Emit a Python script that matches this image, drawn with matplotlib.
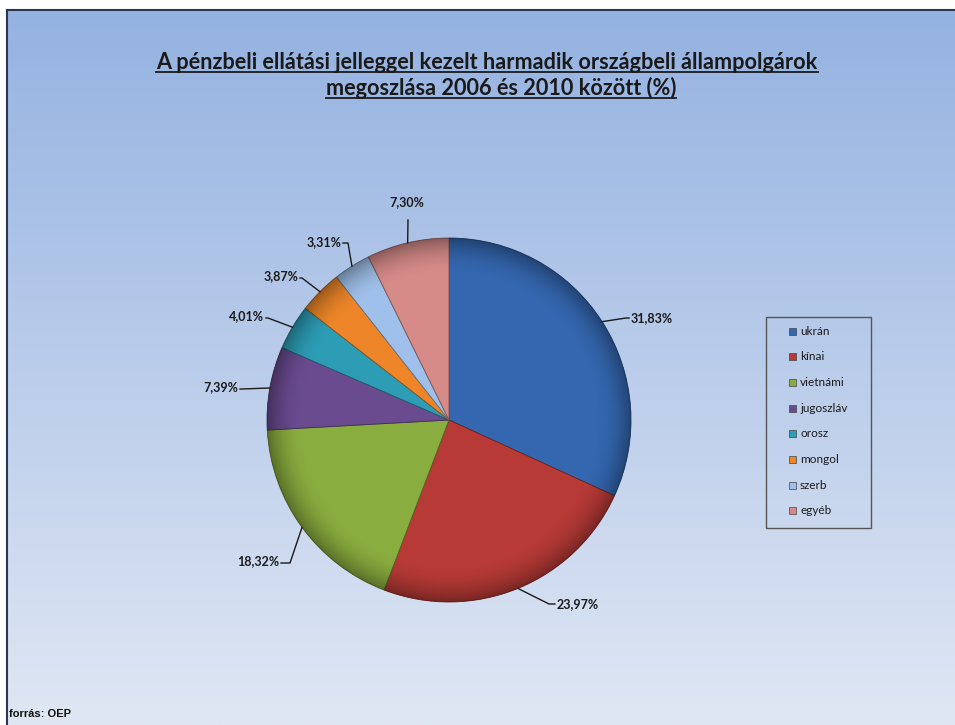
import numpy as np
import matplotlib
matplotlib.use("Agg")
import matplotlib.pyplot as plt
from matplotlib.patches import Rectangle, Circle

# adatok
kategoriak = ["ukrán", "kínai", "vietnámi", "jugoszláv", "orosz", "mongol", "szerb", "egyéb"]
ertekek = [31.83, 23.97, 18.32, 7.39, 4.01, 3.87, 3.31, 7.30]
szinek = ["#3467b0", "#b73a36", "#8aad3f", "#6a4b90", "#2d9db6", "#ee8629", "#9fc0ea", "#d68b89"]
cim = "A pénzbeli ellátási jelleggel kezelt harmadik országbeli állampolgárok\nmegoszlása 2006 és 2010 között (%)"
forras = "forrás: OEP"

W, H = 955, 725
fig = plt.figure(figsize=(W / 100, H / 100), dpi=100)
ax = fig.add_axes([0, 0, 1, 1])

# háttér színátmenet
grad = np.linspace(0, 1, 256).reshape(-1, 1)
top = np.array(matplotlib.colors.to_rgb("#94b2e1"))
bot = np.array(matplotlib.colors.to_rgb("#e0e7f4"))
img = top + (bot - top) * grad[..., None]
ax.imshow(img, extent=[7, W, 0, H - 10], aspect="auto", zorder=0)
ax.plot([7, W], [H - 10, H - 10], color="#2a3652", lw=1.5, zorder=1)
ax.plot([7, 7], [0, H - 10], color="#2a3652", lw=1.5, zorder=1)

# kördiagram, pixel koordinátákban
cx, cy, r = 449, H - 420, 182
wedges, _ = ax.pie(ertekek, colors=szinek, startangle=90, counterclock=False,
                   center=(cx, cy), radius=r, frame=True,
                   wedgeprops=dict(edgecolor="#3c3c3c", linewidth=0.6))
for w, sz in zip(wedges, szinek):
    w.set_zorder(3)
    sotet = np.array(matplotlib.colors.to_rgb(sz)) * 0.6
    w.set_edgecolor(sotet)

# peremárnyék a 3D hatáshoz
n = 400
xx, yy = np.meshgrid(np.linspace(-1, 1, n), np.linspace(-1, 1, n))
rr = np.sqrt(xx ** 2 + yy ** 2)
alfa = np.clip((rr - 0.8) / 0.2, 0, 1) ** 2 * 0.35
arny = np.zeros((n, n, 4))
arny[..., 3] = alfa
im = ax.imshow(arny, extent=[cx - r, cx + r, cy - r, cy + r], zorder=3.5)
im.set_clip_path(Circle((cx, cy), r, transform=ax.transData))

ax.set_xlim(0, W)
ax.set_ylim(0, H)
ax.set_aspect("auto")
ax.axis("off")

# címkék helyzete (szöveg pont) és igazítás
cimke_pos = [(631, 318, "left"), (557, 604, "left"), (279, 561, "right"),
             (238, 387, "right"), (264, 316, "right"), (298, 276, "right"),
             (341, 242, "right"), (407, 208, "center")]
konyok = [(626, 318), (549, 604), (290, 563), (242, 389), (268, 318),
          (302, 278), (348, 243), (408, 220)]

kezd = 90.0
for val, (tx, ty, ha), (kx, ky) in zip(ertekek, cimke_pos, konyok):
    mid = np.deg2rad(kezd - val * 3.6 / 2)
    kezd -= val * 3.6
    px, py = cx + r * np.cos(mid), cy + r * np.sin(mid)
    if ha == "left":
        xs, ys = [px, kx, tx - 2], [py, H - ky, H - ky]
    elif ha == "right":
        xs, ys = [px, kx, tx + 2], [py, H - ky, H - ky]
    else:
        xs, ys = [px, kx], [py, H - ky]
    ax.plot(xs, ys, color="#1a1a1a", lw=1.0, zorder=4)
    lab = f"{val:.2f}%".replace(".", ",")
    ax.text(tx, H - ty, lab, ha=ha, va="center" if ha != "center" else "bottom",
            fontsize=9, fontweight="bold", family="Lato", color="#1a1a1a", zorder=5)

# cím aláhúzással
t1, t2 = cim.split("\n")
fig.canvas.draw()
rend = fig.canvas.get_renderer()
for sor, x, y in zip([t1, t2], [487, 501], [62, 88]):
    t = ax.text(x, H - y, sor, ha="center", va="center", fontsize=15.6,
                fontweight="bold", family="Lato", color="#1a1a1a")
    bb = t.get_window_extent(renderer=rend)
    ax.plot([bb.x0, bb.x1], [H - y - 10, H - y - 10], color="#1a1a1a", lw=1.3)

# jelmagyarázat
ax.add_patch(Rectangle((766, H - 528), 105, 211, facecolor="none",
                       edgecolor="#555555", lw=1.0, zorder=2))
for i, (nev, sz) in enumerate(zip(kategoriak, szinek)):
    y = H - (331 + i * 25.7)
    ax.add_patch(Rectangle((789, y - 3.5), 7, 7, facecolor=sz,
                           edgecolor="#444444", lw=0.5, zorder=3))
    ax.text(800, y, nev, ha="left", va="center", fontsize=8.5,
            family="Lato", color="#1a1a1a")

ax.text(9, H - 714, forras, ha="left", va="center", fontsize=8,
        fontweight="bold", family="Liberation Sans", color="#111111")

fig.savefig("out.png", dpi=100)
